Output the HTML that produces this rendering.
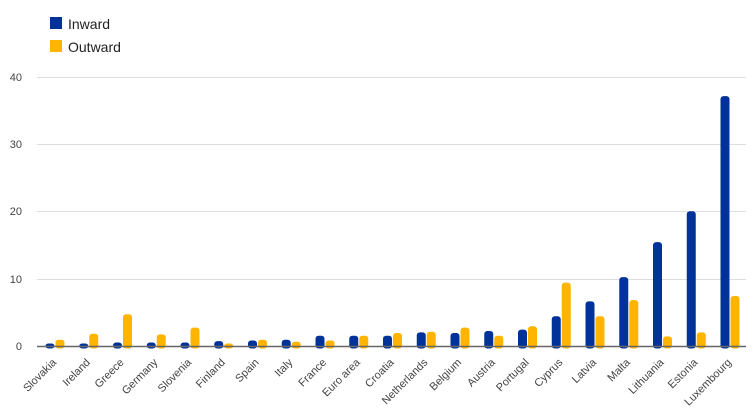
<!DOCTYPE html>
<html><head><meta charset="utf-8"><style>
html,body{margin:0;padding:0;background:#fff;}
svg{display:block;font-family:"Liberation Sans",sans-serif;}
</style></head><body>
<svg width="756" height="418" viewBox="0 0 756 418" xmlns="http://www.w3.org/2000/svg">
<rect x="50" y="17" width="12" height="12" fill="#003299"/>
<text x="68" y="29" font-size="14" fill="#222">Inward</text>
<rect x="50" y="40" width="12" height="12" fill="#ffb400"/>
<text x="68" y="52" font-size="14" fill="#222">Outward</text>
<g stroke="#ddd" stroke-width="1">
<line x1="37" x2="746" y1="77.5" y2="77.5"/>
<line x1="37" x2="746" y1="144.5" y2="144.5"/>
<line x1="37" x2="746" y1="211.5" y2="211.5"/>
<line x1="37" x2="746" y1="279.5" y2="279.5"/>
</g>
<g font-size="11" fill="#444" text-anchor="end">
<text x="22" y="81">40</text><text x="22" y="148">30</text><text x="22" y="215">20</text><text x="22" y="283">10</text><text x="22" y="350">0</text>
</g>
<g id="bars"></g>
<line x1="37" x2="746" y1="346.5" y2="346.5" stroke="#666" stroke-width="1.5"/>
<g id="labels" font-size="11" fill="#444" text-anchor="end"></g>
</svg>
<script>
var d=[["Slovakia",0.4,1.0],["Ireland",0.4,1.9],["Greece",0.6,4.8],["Germany",0.6,1.8],["Slovenia",0.6,2.8],["Finland",0.8,0.4],["Spain",0.9,1.0],["Italy",1.0,0.7],["France",1.6,0.9],["Euro area",1.6,1.6],["Croatia",1.6,2.0],["Netherlands",2.1,2.2],["Belgium",2.0,2.8],["Austria",2.3,1.6],["Portugal",2.5,3.0],["Cyprus",4.5,9.5],["Latvia",6.7,4.5],["Malta",10.3,6.9],["Lithuania",15.5,1.5],["Estonia",20.1,2.1],["Luxembourg",37.2,7.5]];
var ns="http://www.w3.org/2000/svg",b=document.getElementById("bars"),l=document.getElementById("labels");
var y0=346.5,k=6.73;
d.forEach(function(r,i){
 var c=55+i*33.75;
 [[r[1],c-9.5,"#003299"],[r[2],c+0.5,"#ffb400"]].forEach(function(v){
  var h=Math.max(v[0]*k,3),e=document.createElementNS(ns,"rect");
  e.setAttribute("x",v[1]);e.setAttribute("y",y0-h);e.setAttribute("width",9);e.setAttribute("height",h+2);
  e.setAttribute("rx",3);e.setAttribute("fill",v[2]);b.appendChild(e);
 });
 var t=document.createElementNS(ns,"text");
 t.setAttribute("transform","translate("+(c+2)+",363) rotate(-45)");
 t.textContent=r[0];l.appendChild(t);
});
</script>
</body></html>
